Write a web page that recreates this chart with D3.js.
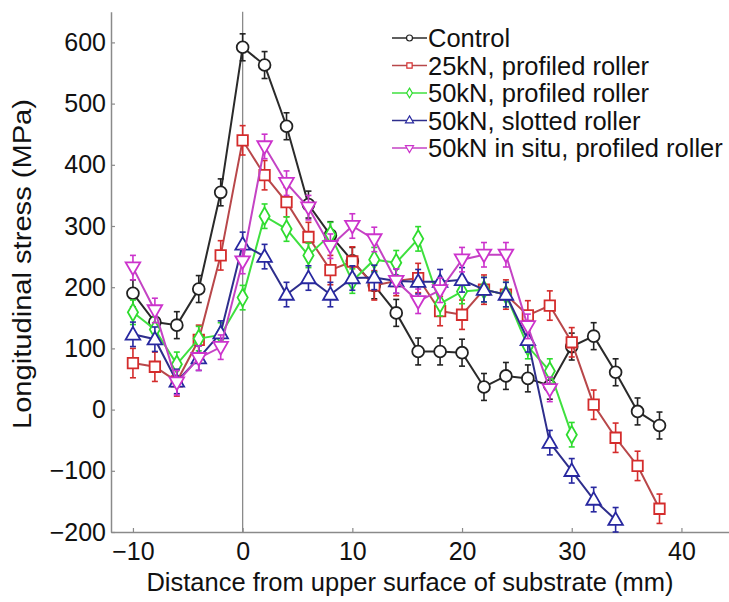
<!DOCTYPE html>
<html>
<head>
<meta charset="utf-8">
<script src="https://cdn.jsdelivr.net/npm/d3@7"></script>
<style>
  body { margin: 0; background: #fff; }
  text { font-family: "Liberation Sans", Arial, sans-serif; fill: #111; }
</style>
</head>
<body>
<div id="vis-container"></div>
<script>
// Set dimensions
const width = 729;
const height = 602;
const margin = { top: 12, right: -8, bottom: 70, left: 111 };

// Data: distance (mm) and longitudinal stress (MPa) for each condition
const controlX = [-10, -8, -6, -4, -2, 0, 2, 4, 6, 8, 10, 12, 14, 16, 18, 20, 22, 24, 26, 28, 30, 32, 34, 36, 38];
const controlY = [190, 143, 138, 197, 355, 592, 563, 463, 335, 285, 243, 203, 158, 95, 95, 93, 37, 55, 51, 39, 103, 120, 61, -3, -26];

const kn25X = [-10, -8, -6, -4, -2, 0, 2, 4, 6, 8, 10, 12, 14, 16, 18, 20, 22, 24, 26, 28, 30, 32, 34, 36, 38];
const kn25Y = [76, 70, 46, 114, 252, 440, 383, 339, 282, 228, 242, 203, 210, 215, 161, 155, 196, 188, 154, 170, 110, 8, -46, -92, -162];

const kn50X = [-10, -8, -6, -4, -2, 0, 2, 4, 6, 8, 10, 12, 14, 16, 18, 20, 22, 24, 26, 28, 30];
const kn50Y = [159, 131, 74, 116, 122, 183, 316, 295, 252, 286, 210, 245, 240, 279, 173, 193, 196, 188, 103, 63, -41];

const slottedX = [-10, -8, -6, -4, -2, 0, 2, 4, 6, 8, 10, 12, 14, 16, 18, 20, 22, 24, 26, 28, 30, 32, 34];
const slottedY = [123, 115, 46, 84, 125, 270, 250, 188, 215, 188, 215, 216, 210, 209, 209, 212, 196, 188, 114, -54, -100, -147, -180];

const insituX = [-10, -8, -6, -4, -2, 0, 2, 4, 6, 8, 10, 12, 14, 16, 18, 20, 22, 24, 26, 28];
const insituY = [232, 162, 44, 84, 102, 242, 430, 370, 330, 267, 300, 278, 210, 177, 195, 245, 253, 253, 136, 33];

// Error bar half-heights (MPa)
const errs = [22, 24, 20, 20, 20];

const names = ["Control", "25kN, profiled roller", "50kN, profiled roller",
               "50kN, slotted roller", "50kN in situ, profiled roller"];
const lineColors = ["#2a2a2a", "#b8474a", "#3fe03f", "#2e2e8c", "#c443c4"];
const markColors = ["#222222", "#d42c2c", "#2fdc2f", "#2828a0", "#cc33cc"];
const shapes = ["circle", "square", "diamond", "up", "down"];

const xTicks = [-10, 0, 10, 20, 30, 40];
const yTicks = [-200, -100, 0, 100, 200, 300, 400, 500, 600];

const series = [
  [controlX, controlY], [kn25X, kn25Y], [kn50X, kn50Y], [slottedX, slottedY], [insituX, insituY]
].map(([xs, ys], i) => ({
  name: names[i],
  points: xs.map((x, j) => ({ x: x, y: ys[j] })),
  err: errs[i],
  line: lineColors[i],
  mark: markColors[i],
  shape: shapes[i]
}));

const svg = d3.select("#vis-container")
  .append("svg")
  .attr("width", width)
  .attr("height", height);

// Scales
const x = d3.scaleLinear()
  .domain([-12, 45])
  .range([margin.left, margin.left + 57 * 10.97]);

const y = d3.scaleLinear()
  .domain([-200, 650])
  .range([532, 532 - 850 * 0.612]);

// Axes (ticks point inward)
const xAxis = svg.append("g")
  .attr("transform", `translate(0,${y(-200)})`)
  .call(d3.axisBottom(x).tickValues(xTicks).tickSizeInner(-4).tickSizeOuter(0).tickPadding(5));

const yAxis = svg.append("g")
  .attr("transform", `translate(${x(-12)},0)`)
  .call(d3.axisLeft(y).tickValues(yTicks).tickSizeInner(-4).tickSizeOuter(0).tickPadding(5));

[xAxis, yAxis].forEach(g => {
  g.select(".domain").attr("stroke", "#8a8a8a").attr("stroke-width", 1.5);
  g.selectAll(".tick line").attr("stroke", "#8a8a8a").attr("stroke-width", 1.2);
  g.selectAll(".tick text").attr("font-size", 25).attr("fill", "#111")
    .attr("font-family", "Liberation Sans, Arial, sans-serif");
});
xAxis.selectAll(".tick text").attr("dy", "0.9em");

// Axis titles
svg.append("text")
  .attr("x", 410)
  .attr("y", 591)
  .attr("text-anchor", "middle")
  .attr("font-size", 25.5)
  .text("Distance from upper surface of substrate (mm)");

svg.append("text")
  .attr("transform", `translate(31,${264}) rotate(-90)`)
  .attr("text-anchor", "middle")
  .attr("font-size", 26.5)
  .attr("textLength", 330)
  .attr("lengthAdjust", "spacingAndGlyphs")
  .text("Longitudinal stress (MPa)");

// Vertical reference line at the substrate surface
svg.append("line")
  .attr("x1", x(0)).attr("x2", x(0))
  .attr("y1", y(650)).attr("y2", y(-200))
  .attr("stroke", "#8a8a8a")
  .attr("stroke-width", 1.3);

function symbolPath(shape, size) {
  if (shape === "circle") return d3.symbol(d3.symbolCircle, size)();
  if (shape === "square") return d3.symbol(d3.symbolSquare, size)();
  if (shape === "diamond") return d3.symbol(d3.symbolDiamond, size)();
  return d3.symbol(d3.symbolTriangle, size)();
}

const line = d3.line().x(d => x(d.x)).y(d => y(d.y));

series.forEach(s => {
  const g = svg.append("g");

  g.append("path")
    .datum(s.points)
    .attr("fill", "none")
    .attr("stroke", s.line)
    .attr("stroke-width", 2);

  g.select("path").attr("d", line);

  // Error bars
  const eb = g.selectAll(".err")
    .data(s.points)
    .enter()
    .append("g")
    .attr("stroke", s.mark)
    .attr("stroke-width", 1.6);
  eb.append("line")
    .attr("x1", d => x(d.x)).attr("x2", d => x(d.x))
    .attr("y1", d => y(d.y + s.err)).attr("y2", d => y(d.y - s.err));
  eb.append("line")
    .attr("x1", d => x(d.x) - 3).attr("x2", d => x(d.x) + 3)
    .attr("y1", d => y(d.y + s.err)).attr("y2", d => y(d.y + s.err));
  eb.append("line")
    .attr("x1", d => x(d.x) - 3).attr("x2", d => x(d.x) + 3)
    .attr("y1", d => y(d.y - s.err)).attr("y2", d => y(d.y - s.err));

  // Markers
  const size = s.shape === "diamond" ? 90 : (s.shape === "up" || s.shape === "down") ? 92 : 110;
  g.selectAll(".mark")
    .data(s.points)
    .enter()
    .append("path")
    .attr("d", symbolPath(s.shape, size))
    .attr("transform", d => `translate(${x(d.x)},${y(d.y) + (s.shape === "up" ? 1 : s.shape === "down" ? -1 : 0)})` +
      (s.shape === "down" ? " rotate(180)" : ""))
    .attr("fill", "#fff")
    .attr("stroke", s.mark)
    .attr("stroke-width", 1.8);
});

// Legend
const legend = svg.append("g");
series.forEach((s, i) => {
  const ly = 38 + i * 27.5;
  legend.append("line")
    .attr("x1", 392).attr("x2", 427)
    .attr("y1", ly).attr("y2", ly)
    .attr("stroke", s.line)
    .attr("stroke-width", 1.6);
  legend.append("path")
    .attr("d", symbolPath(s.shape, 28))
    .attr("transform", `translate(409.5,${ly})` + (s.shape === "down" ? " rotate(180)" : ""))
    .attr("fill", "#fff")
    .attr("stroke", s.mark)
    .attr("stroke-width", 1.2);
  legend.append("text")
    .attr("x", 428)
    .attr("y", ly)
    .attr("dy", "0.36em")
    .attr("font-size", 25.5)
    .text(s.name);
});
</script>
</body>
</html>
